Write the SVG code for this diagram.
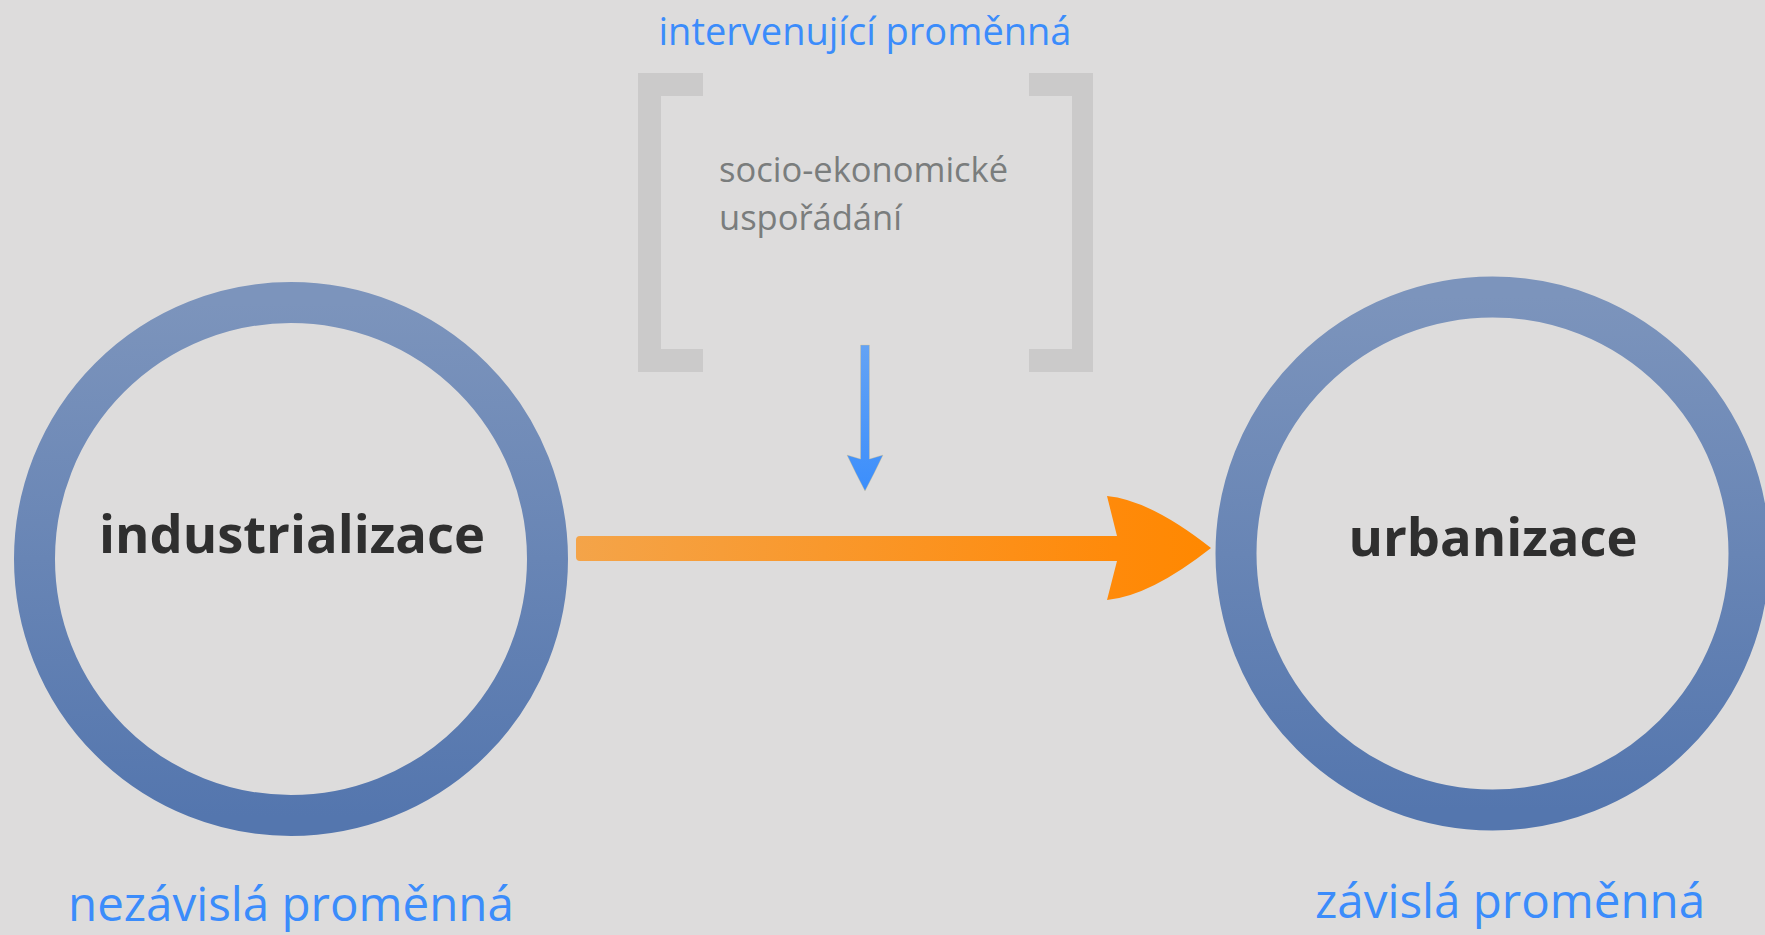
<svg xmlns="http://www.w3.org/2000/svg" width="1765" height="935" viewBox="0 0 1765 935">
<style>
.lbl{font-family:"Open Sans","Noto Sans","DejaVu Sans",sans-serif;fill:#3b8cfb}
.node-text{font-family:"Open Sans","Noto Sans","DejaVu Sans",sans-serif;font-weight:bold;fill:#2f2f2f;text-anchor:middle}
.ring{fill:none;stroke:url(#ringGrad);stroke-width:41}
.bracket{fill:#cbcaca}
.inner{font-family:"Open Sans","Noto Sans","DejaVu Sans",sans-serif;fill:#7a7d7d;font-size:34.5px}
</style>
<defs>
<linearGradient id="ringGrad" gradientUnits="objectBoundingBox" x1="0" y1="0" x2="0" y2="1">
<stop offset="0" stop-color="#7c94bc"/>
<stop offset="1" stop-color="#5476ae"/>
</linearGradient>
<linearGradient id="orangeGrad" gradientUnits="userSpaceOnUse" x1="576" y1="0" x2="1210" y2="0">
<stop offset="0" stop-color="#f4a449"/>
<stop offset="0.85" stop-color="#ff8a0a"/>
<stop offset="1" stop-color="#ff8800"/>
</linearGradient>
<linearGradient id="blueGrad" gradientUnits="userSpaceOnUse" x1="0" y1="345" x2="0" y2="492">
<stop offset="0" stop-color="#64a3f4"/>
<stop offset="1" stop-color="#3b8efc"/>
</linearGradient>
</defs>
<rect width="1765" height="935" fill="#dddcdc"/>

<g id="intervening">
<text class="lbl" x="865" y="45" font-size="38" text-anchor="middle">intervenující proměnná</text>
<path class="bracket" d="M638,73 H703 V96 H661 V349 H703 V372 H638 Z"/>
<path class="bracket" d="M1093,73 H1029 V96 H1072 V349 H1029 V372 H1093 Z"/>
<text class="inner" x="719" y="182">socio-ekonomické</text>
<text class="inner" x="719" y="230">uspořádání</text>
</g>

<g id="industrializace">
<circle class="ring" cx="291" cy="559" r="256.5"/>
<text class="node-text" x="292" y="553" font-size="52.5">industrializace</text>
<text class="lbl" x="68" y="921" font-size="47.5">nezávislá proměnná</text>
</g>

<g id="urbanizace">
<circle class="ring" cx="1492.5" cy="553.5" r="256.5"/>
<text class="node-text" x="1493" y="556" font-size="52.5">urbanizace</text>
<text class="lbl" x="1315" y="918" font-size="47.5">závislá proměnná</text>
</g>

<g id="connectors">
<path d="M580,536 H1117 L1107,496 Q1150,500 1211,548 Q1150,596 1107,600 L1117,561 H580 Q576,561 576,557 V540 Q576,536 580,536 Z" fill="url(#orangeGrad)"/>
<path d="M860.5,345 H869.5 V459 L883,455 Q875,472 865,491 Q855,472 847,455 L860.5,459 Z" fill="url(#blueGrad)" stroke="#e9c47a" stroke-width="0.6" stroke-opacity="0.6"/>
</g>
</svg>
